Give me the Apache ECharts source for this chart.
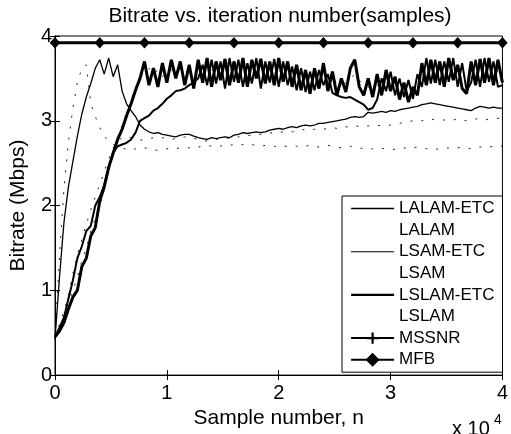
<!DOCTYPE html>
<html>
<head>
<meta charset="utf-8">
<script src="https://cdn.jsdelivr.net/npm/echarts@6/dist/echarts.min.js"></script>
<style>
  html, body { margin: 0; padding: 0; background: #fff; }
  #chart { width: 511px; height: 434px; }
</style>
</head>
<body>
<div id="chart"></div>
<script>
// bitrate (Mbps) read every 400 samples, n = 0 .. 40000
const lalamEtc = [
  0.42, 1.15, 1.8, 2.22, 2.52, 2.82, 3.08, 3.28, 3.44, 3.62,
  3.72, 3.55, 3.74, 3.52, 3.66, 3.35, 3.2, 3.12, 3.05, 2.95,
  2.9, 2.87, 2.85, 2.86, 2.84, 2.83, 2.82, 2.81, 2.83, 2.84,
  2.84, 2.82, 2.8, 2.79, 2.78, 2.8, 2.79, 2.8, 2.81, 2.8,
  2.83, 2.84, 2.86, 2.85, 2.86, 2.87, 2.86, 2.87, 2.89, 2.9,
  2.91, 2.9, 2.92, 2.93, 2.92, 2.94, 2.95, 2.94, 2.95, 2.97,
  2.97, 2.98, 2.99, 3.0, 3.01, 3.02, 3.04, 3.05, 3.04, 3.05,
  3.1, 3.09, 3.1, 3.11, 3.1, 3.12, 3.11, 3.13, 3.14, 3.15,
  3.16, 3.17, 3.19, 3.2, 3.21, 3.2, 3.19, 3.18, 3.17, 3.16,
  3.15, 3.14, 3.13, 3.12, 3.15, 3.17, 3.16, 3.15, 3.16, 3.15,
  3.15
]
const lalam = [
  0.45, 1.4, 2.2, 2.75, 3.15, 3.45, 3.62, 3.66, 3.2, 3.05,
  2.92, 2.82, 2.76, 2.72, 2.7, 2.68, 2.66, 2.65, 2.67, 2.66,
  2.68, 2.67, 2.66, 2.65, 2.66, 2.67, 2.68, 2.67, 2.68, 2.69,
  2.68, 2.7, 2.69, 2.7, 2.71, 2.7, 2.71, 2.7, 2.72, 2.71,
  2.72, 2.71, 2.72, 2.73, 2.72, 2.71, 2.7, 2.71, 2.7, 2.7,
  2.69, 2.7, 2.7, 2.71, 2.7, 2.69, 2.7, 2.71, 2.7, 2.69,
  2.7, 2.71, 2.7, 2.69, 2.68, 2.69, 2.7, 2.69, 2.68, 2.67,
  2.66, 2.67, 2.66, 2.67, 2.68, 2.67, 2.66, 2.67, 2.68, 2.67,
  2.68, 2.69, 2.68, 2.67, 2.68, 2.67, 2.66, 2.67, 2.68, 2.67,
  2.68, 2.69, 2.68, 2.67, 2.68, 2.69, 2.7, 2.69, 2.7, 2.71,
  2.7
]
const lsamEtc = [
  0.45, 0.56, 0.68, 0.9, 1.12, 1.38, 1.52, 1.7, 1.76, 2.0,
  2.1, 2.24, 2.45, 2.62, 2.7, 2.72, 2.74, 2.78, 2.86, 3.0,
  3.03, 3.06, 3.12, 3.15, 3.2, 3.26, 3.3, 3.35, 3.36, 3.38,
  3.42, 3.45, 3.5, 3.66, 3.42, 3.72, 3.44, 3.7, 3.38, 3.74,
  3.46, 3.72, 3.4, 3.68, 3.44, 3.74, 3.38, 3.7, 3.45, 3.73,
  3.4, 3.7, 3.42, 3.64, 3.36, 3.62, 3.34, 3.58, 3.36, 3.6,
  3.42, 3.55, 3.33, 3.3, 3.28, 3.27, 3.28, 3.25, 3.22, 3.19,
  3.13, 3.15, 3.25, 3.5, 3.35, 3.58, 3.3, 3.5, 3.28, 3.48,
  3.26, 3.55, 3.4, 3.74, 3.44, 3.72, 3.42, 3.7, 3.46, 3.74,
  3.4, 3.68, 3.35, 3.45, 3.72, 3.4, 3.74, 3.46, 3.7, 3.4,
  3.42
]
const lsam = [
  0.45, 0.6, 0.75, 0.95, 1.2, 1.42, 1.6, 1.78, 1.95, 2.1,
  2.25, 2.4, 2.55, 2.68, 2.76, 2.8, 2.82, 2.8, 2.78, 2.77,
  2.78, 2.79, 2.8, 2.81, 2.8, 2.79, 2.78, 2.79, 2.8, 2.81,
  2.8, 2.79, 2.78, 2.77, 2.76, 2.77, 2.78, 2.79, 2.8, 2.79,
  2.8, 2.81, 2.82, 2.83, 2.82, 2.83, 2.84, 2.85, 2.86, 2.85,
  2.86, 2.87, 2.88, 2.87, 2.88, 2.89, 2.9, 2.89, 2.9, 2.91,
  2.9, 2.91, 2.92, 2.91, 2.92, 2.93, 2.92, 2.93, 2.94, 2.93,
  2.94, 2.93, 2.94, 2.95, 2.94, 2.95, 2.96, 2.97, 2.98, 2.99,
  3.0, 3.01, 3.0, 3.01, 3.02, 3.01, 3.0, 3.01, 3.02, 3.01,
  3.02, 3.01, 3.0, 3.01, 3.02, 3.03, 3.02, 3.01, 3.02, 3.03,
  3.02
]
const lslamEtc = [
  0.45, 0.52, 0.62, 0.78, 0.92, 1.0, 1.28, 1.38, 1.64, 1.74,
  2.05, 2.22, 2.45, 2.62, 2.78, 2.9, 3.06, 3.2, 3.36, 3.5,
  3.7, 3.42, 3.62, 3.4, 3.68, 3.45, 3.72, 3.5, 3.7, 3.42,
  3.66, 3.38, 3.72, 3.45, 3.74, 3.4, 3.7, 3.48, 3.73, 3.42,
  3.7, 3.45, 3.74, 3.4, 3.72, 3.5, 3.73, 3.44, 3.7, 3.42,
  3.74, 3.46, 3.7, 3.4, 3.66, 3.36, 3.6, 3.32, 3.62, 3.38,
  3.68, 3.35, 3.58, 3.3, 3.5, 3.34, 3.62, 3.72, 3.4, 3.3,
  3.5, 3.28, 3.55, 3.3, 3.6, 3.35, 3.52, 3.25, 3.45, 3.22,
  3.4, 3.3, 3.68, 3.42, 3.72, 3.45, 3.7, 3.4, 3.74, 3.48,
  3.66, 3.38, 3.32, 3.7, 3.42, 3.73, 3.45, 3.74, 3.42, 3.72,
  3.45
]
const lslam = [
  0.45, 0.58, 0.7, 0.85, 1.0, 1.15, 1.35, 1.5, 1.7, 1.85,
  2.0, 2.2, 2.4, 2.58, 2.75, 2.95, 3.1, 3.25, 3.4, 3.5,
  3.58, 3.62, 3.55, 3.6, 3.52, 3.58, 3.6, 3.55, 3.62, 3.57,
  3.6, 3.55, 3.58, 3.62, 3.56, 3.6, 3.58, 3.62, 3.55, 3.6,
  3.57, 3.62, 3.56, 3.6, 3.55, 3.58, 3.62, 3.57, 3.6, 3.55,
  3.58, 3.6, 3.55, 3.5, 3.52, 3.48, 3.5, 3.45, 3.48, 3.5,
  3.52, 3.48, 3.5, 3.45, 3.42, 3.45, 3.5, 3.55, 3.48, 3.42,
  3.4, 3.38, 3.42, 3.4, 3.45, 3.42, 3.4, 3.38, 3.4, 3.42,
  3.45, 3.5, 3.55, 3.58, 3.6, 3.56, 3.6, 3.55, 3.58, 3.6,
  3.55, 3.5, 3.48, 3.55, 3.58, 3.6, 3.56, 3.6, 3.57, 3.58,
  3.55
]
// the two reference methods are flat, marked every 4000 samples
const markerSamples = [0, 4000, 8000, 12000, 16000, 20000, 24000, 28000, 32000, 36000, 40000]
const mssnr = [3.92, 3.92, 3.92, 3.92, 3.92, 3.92, 3.92, 3.92, 3.92, 3.92, 3.92]
const mfb = [3.92, 3.92, 3.92, 3.92, 3.92, 3.92, 3.92, 3.92, 3.92, 3.92, 3.92]
const xTicks = [0, 1, 2, 3, 4]

const samples = lalamEtc.map((_, i) => i * 400)
const pairs = (xs, ys) => xs.map((x, i) => [x, ys[i]])

const FONT = '"Liberation Sans", Arial, sans-serif'
const plusPath = 'path://M4,0H6V4H10V6H6V10H4V6H0V4H4Z'

const plain = (name, values, width) => ({
  name,
  type: 'line',
  data: pairs(samples, values),
  showSymbol: false,
  symbol: 'none',
  lineStyle: { color: '#000', width },
  itemStyle: { color: '#000' },
})
const dotted = (name, values) => ({
  name,
  type: 'line',
  data: pairs(samples, values),
  showSymbol: false,
  symbol: 'none',
  lineStyle: { color: '#222', width: 1, type: [2, 9] },
  itemStyle: { color: '#222' },
})
const lineOnly = (name, width) => ({ name, itemStyle: { opacity: 0 }, lineStyle: { width } })
const hidden = name => ({ name, lineStyle: { opacity: 0 }, itemStyle: { opacity: 0 } })

const chart = echarts.init(document.getElementById('chart'))
chart.setOption({
  animation: false,
  backgroundColor: '#fff',
  title: {
    text: 'Bitrate vs. iteration number(samples)',
    left: 275,
    textAlign: 'center',
    top: 1,
    textStyle: { fontFamily: FONT, fontSize: 21, fontWeight: 'normal', color: '#000' },
  },
  grid: { left: 47, right: 8, top: 36, bottom: 58, show: true, borderColor: '#000', borderWidth: 1 },
  legend: {
    orient: 'vertical',
    left: 342,
    top: 196,
    padding: [4, 8, 4, 8],
    backgroundColor: '#fff',
    borderColor: '#000',
    borderWidth: 1,
    itemWidth: 43,
    itemHeight: 14,
    itemGap: 4.6,
    textStyle: { fontFamily: FONT, fontSize: 17, color: '#000' },
    data: [
      lineOnly('LALAM-ETC', 1.3),
      hidden('LALAM'),
      lineOnly('LSAM-ETC', 1.1),
      hidden('LSAM'),
      lineOnly('LSLAM-ETC', 2.2),
      hidden('LSLAM'),
      'MSSNR',
      'MFB',
    ],
  },
  xAxis: [
    {
      type: 'value',
      min: 0,
      max: 40000,
      interval: 10000,
      name: 'Sample number, n',
      nameLocation: 'middle',
      nameGap: 27,
      nameTextStyle: { fontFamily: FONT, fontSize: 21, color: '#000' },
      axisLine: { lineStyle: { color: '#000' } },
      axisTick: { inside: true, length: 5, lineStyle: { color: '#000' } },
      axisLabel: {
        fontFamily: FONT, fontSize: 20, color: '#000', margin: 8,
        formatter: v => String(xTicks[Math.round(v / 10000)]),
      },
      splitLine: { show: false },
    },
    {
      type: 'value',
      position: 'top',
      min: 0,
      max: 40000,
      interval: 10000,
      axisLine: { lineStyle: { color: '#000' } },
      axisTick: { inside: true, length: 5, lineStyle: { color: '#000' } },
      axisLabel: { show: false },
      splitLine: { show: false },
    },
  ],
  yAxis: [
    {
      type: 'value',
      min: 0,
      max: 4,
      interval: 1,
      name: 'Bitrate (Mbps)',
      nameLocation: 'middle',
      nameGap: 26,
      nameTextStyle: { fontFamily: FONT, fontSize: 21, color: '#000' },
      axisLine: { show: true, lineStyle: { color: '#000' } },
      axisTick: { show: true, inside: true, length: 5, lineStyle: { color: '#000' } },
      axisLabel: { fontFamily: FONT, fontSize: 20, color: '#000', margin: 3 },
      splitLine: { show: false },
    },
    {
      type: 'value',
      position: 'right',
      min: 0,
      max: 4,
      interval: 1,
      axisLine: { show: true, lineStyle: { color: '#000' } },
      axisTick: { show: true, inside: true, length: 5, lineStyle: { color: '#000' } },
      axisLabel: { show: false },
      splitLine: { show: false },
    },
  ],
  series: [
    dotted('LALAM', lalam),
    dotted('LSAM', lsam),
    dotted('LSLAM', lslam),
    plain('LALAM-ETC', lalamEtc, 1.3),
    plain('LSAM-ETC', lsamEtc, 2),
    plain('LSLAM-ETC', lslamEtc, 3),
    {
      name: 'MSSNR',
      type: 'line',
      data: pairs(markerSamples, mssnr),
      symbol: plusPath,
      symbolSize: 9,
      lineStyle: { color: '#000', width: 1.5 },
      itemStyle: { color: '#000' },
    },
    {
      name: 'MFB',
      type: 'line',
      data: pairs(markerSamples, mfb),
      symbol: 'diamond',
      symbolSize: [9, 10],
      lineStyle: { color: '#000', width: 3 },
      itemStyle: { color: '#000', borderColor: '#000', borderWidth: 1 },
    },
  ],
  graphic: [
    { type: 'text', left: 452, top: 419, style: { text: 'x 10', font: '20px ' + FONT, fill: '#000' } },
    { type: 'text', left: 494, top: 413, style: { text: '4', font: '14px ' + FONT, fill: '#000' } },
  ],
})
</script>
</body>
</html>
